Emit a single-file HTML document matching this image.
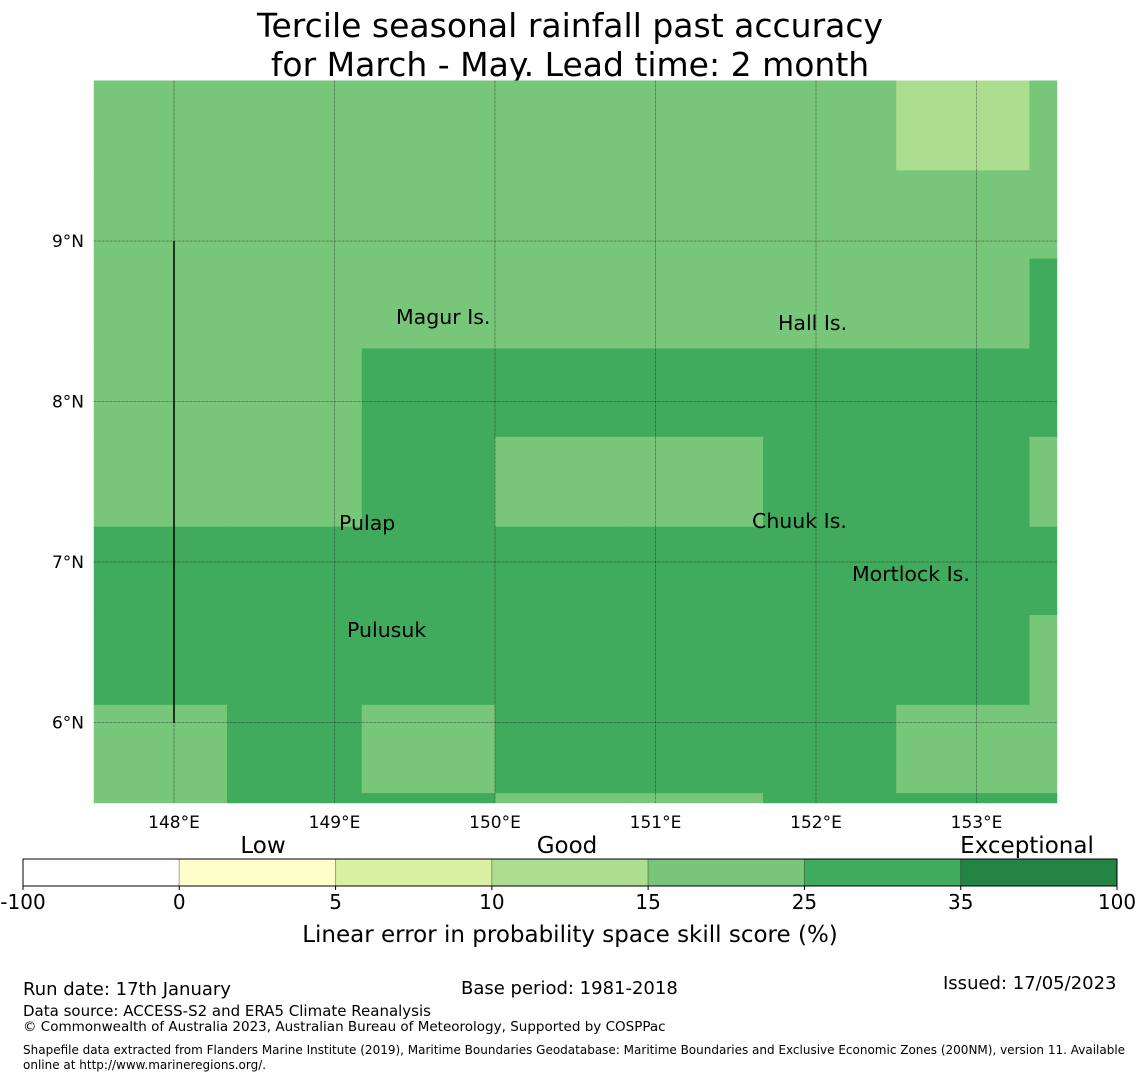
<!DOCTYPE html>
<html><head><meta charset="utf-8"><style>
body{margin:0;background:#fff;}
svg{display:block;font-family:"DejaVu Sans","Liberation Sans",sans-serif;}
</style></head><body>
<svg id="chart" width="1140" height="1080" viewBox="0 0 1140 1080">
<text x="570" y="37" font-size="33" text-anchor="middle">Tercile seasonal rainfall past accuracy</text>
<text x="570" y="76" font-size="33" text-anchor="middle">for March - May. Lead time: 2 month</text>
<g id="cells"></g>
<g id="grid"></g>
<line x1="174" y1="241" x2="174" y2="723" stroke="#000" stroke-width="1.5"/>
<g font-size="20.5">
<text x="396" y="324">Magur Is.</text>
<text x="778" y="330">Hall Is.</text>
<text x="339" y="530">Pulap</text>
<text x="752" y="528">Chuuk Is.</text>
<text x="852" y="581">Mortlock Is.</text>
<text x="347" y="637">Pulusuk</text>
</g>
<g id="axes" font-size="17"></g>
<g id="cbar"></g>
<g>
<text x="23" y="995" font-size="18">Run date: 17th January</text>
<text x="461" y="994" font-size="18">Base period: 1981-2018</text>
<text x="943" y="989" font-size="18">Issued: 17/05/2023</text>
<text x="23" y="1016" font-size="15">Data source: ACCESS-S2 and ERA5 Climate Reanalysis</text>
<text x="23" y="1031" font-size="13.5">© Commonwealth of Australia 2023, Australian Bureau of Meteorology, Supported by COSPPac</text>
<text x="23" y="1054" font-size="12">Shapefile data extracted from Flanders Marine Institute (2019), Maritime Boundaries Geodatabase: Maritime Boundaries and Exclusive Economic Zones (200NM), version 11. Available</text>
<text x="23" y="1069" font-size="12">online at http://www.marineregions.org/.</text>
</g>
</svg>
<script>
// category codes per grid cell: 3 = 10-15, 4 = 15-25, 5 = 25-35
const cellRows = [
 [4,4,4,4,4,4,3,4],
 [4,4,4,4,4,4,4,4],
 [4,4,4,4,4,4,4,5],
 [4,4,5,5,5,5,5,5],
 [4,4,5,4,4,5,5,4],
 [5,5,5,5,5,5,5,5],
 [5,5,5,5,5,5,5,4],
 [4,5,4,5,5,5,4,4],
 [4,5,5,4,4,5,5,5]
];
const lonEdges = [147.5,148.33,149.17,150.0,150.83,151.67,152.5,153.33,153.5];
const latEdges = [10.0,9.44,8.89,8.33,7.78,7.22,6.67,6.11,5.56,5.5];
const lonTicks = [148,149,150,151,152,153];
const latTicks = [9,8,7,6];
const cbBounds = ["-100","0","5","10","15","25","35","100"];
const cbColors = ["#ffffff","#ffffcc","#d9f0a3","#addd8e","#78c679","#41ab5d","#238443"];
const cbHeaders = [["Low",263],["Good",567],["Exceptional",1027]];
const NS="http://www.w3.org/2000/svg";
function xs(lon){return 174+(lon-148)*160.5;}
function ys(lat){return 241-(lat-9)*160.5;}
function mk(tag,attrs,parent){const e=document.createElementNS(NS,tag);for(const k in attrs)e.setAttribute(k,attrs[k]);parent.appendChild(e);return e;}
const cellsG=document.getElementById('cells');
cellRows.forEach((row,r)=>row.forEach((v,c)=>{
 const x0=xs(lonEdges[c]),x1=xs(lonEdges[c+1]),y0=ys(latEdges[r]),y1=ys(latEdges[r+1]);
 const e=mk('rect',{x:x0,y:y0,width:x1-x0+0.5,height:y1-y0+0.5,fill:cbColors[v]},cellsG);
 
 
}));
const gridG=document.getElementById('grid'),axesG=document.getElementById('axes');
const mapTop=ys(10),mapBot=ys(5.5),mapLeft=xs(147.5),mapRight=xs(153.5);
lonTicks.forEach(l=>{
 const g=mk('line',{x1:xs(l),x2:xs(l),y1:mapTop,y2:mapBot,stroke:'rgba(0,0,0,0.4)','stroke-width':0.8,'stroke-dasharray':'3,1'},gridG);
 
 
 const t=mk('text',{x:xs(l),y:828,'text-anchor':'middle'},axesG);t.textContent=l+'°E';
 
 
});
latTicks.forEach(l=>{
 const g=mk('line',{x1:mapLeft,x2:mapRight,y1:ys(l),y2:ys(l),stroke:'rgba(0,0,0,0.4)','stroke-width':0.8,'stroke-dasharray':'3,1'},gridG);
 
 
 const t=mk('text',{x:84,y:ys(l)+6,'text-anchor':'end'},axesG);t.textContent=l+'°N';
 
 
});
const cb=document.getElementById('cbar');
const cbx=23,cbw=1094,cby=859,cbh=27,seg=cbw/cbColors.length;
cbColors.forEach((c,i)=>{
 const e=mk('rect',{x:cbx+i*seg,y:cby,width:seg,height:cbh,fill:c,stroke:'rgba(0,0,0,0.25)','stroke-width':1},cb);
 
 
});
mk('rect',{x:cbx,y:cby,width:cbw,height:cbh,fill:'none',stroke:'#000','stroke-width':1},cb);
cbBounds.forEach((b,i)=>{
 const x=cbx+i*seg;
 mk('line',{x1:x,x2:x,y1:cby+cbh,y2:cby+cbh+4,stroke:'#000'},cb);
 const t=mk('text',{x:x,y:909,'text-anchor':'middle','font-size':20},cb);t.textContent=b;
 
 
});
cbHeaders.forEach(h=>{
 const t=mk('text',{x:h[1],y:853,'text-anchor':'middle','font-size':23},cb);t.textContent=h[0];
 
 
});
const lab=mk('text',{x:570,y:942,'text-anchor':'middle','font-size':23},cb);lab.textContent='Linear error in probability space skill score (%)';


</script>
</body></html>
